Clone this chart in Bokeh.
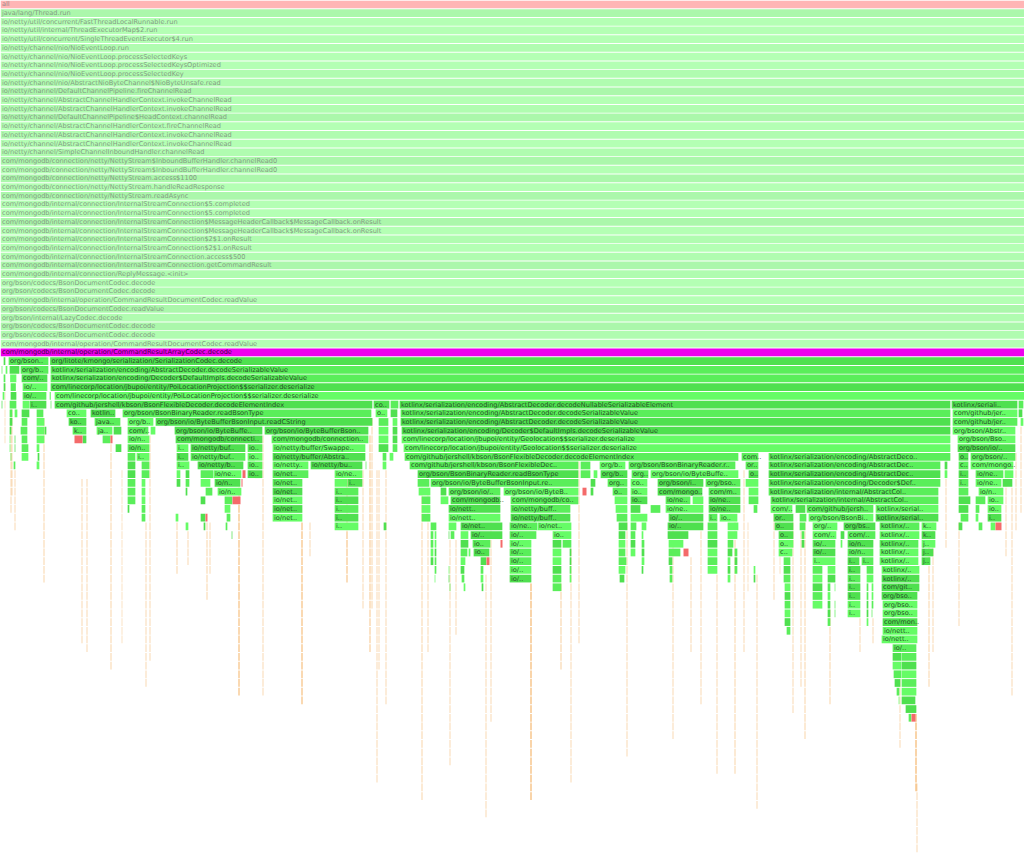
from bokeh.embed import file_html
from bokeh.models import ColumnDataSource
from bokeh.plotting import figure
from bokeh.resources import INLINE
from bokeh.core.properties import value

N_ROWS = 853 / 8.7
TOTAL = 1024

root_label = "all"
thread_stack = [
    "java/lang/Thread.run",
    "io/netty/util/concurrent/FastThreadLocalRunnable.run",
    "io/netty/util/internal/ThreadExecutorMap$2.run",
    "io/netty/util/concurrent/SingleThreadEventExecutor$4.run",
    "io/netty/channel/nio/NioEventLoop.run",
    "io/netty/channel/nio/NioEventLoop.processSelectedKeys",
    "io/netty/channel/nio/NioEventLoop.processSelectedKeysOptimized",
    "io/netty/channel/nio/NioEventLoop.processSelectedKey",
    "io/netty/channel/nio/AbstractNioByteChannel$NioByteUnsafe.read",
    "io/netty/channel/DefaultChannelPipeline.fireChannelRead",
    "io/netty/channel/AbstractChannelHandlerContext.invokeChannelRead",
    "io/netty/channel/AbstractChannelHandlerContext.invokeChannelRead",
    "io/netty/channel/DefaultChannelPipeline$HeadContext.channelRead",
    "io/netty/channel/AbstractChannelHandlerContext.fireChannelRead",
    "io/netty/channel/AbstractChannelHandlerContext.invokeChannelRead",
    "io/netty/channel/AbstractChannelHandlerContext.invokeChannelRead",
    "io/netty/channel/SimpleChannelInboundHandler.channelRead",
    "com/mongodb/connection/netty/NettyStream$InboundBufferHandler.channelRead0",
    "com/mongodb/connection/netty/NettyStream$InboundBufferHandler.channelRead0",
    "com/mongodb/connection/netty/NettyStream.access$1100",
    "com/mongodb/connection/netty/NettyStream.handleReadResponse",
    "com/mongodb/connection/netty/NettyStream.readAsync",
    "com/mongodb/internal/connection/InternalStreamConnection$5.completed",
    "com/mongodb/internal/connection/InternalStreamConnection$5.completed",
    "com/mongodb/internal/connection/InternalStreamConnection$MessageHeaderCallback$MessageCallback.onResult",
    "com/mongodb/internal/connection/InternalStreamConnection$MessageHeaderCallback$MessageCallback.onResult",
    "com/mongodb/internal/connection/InternalStreamConnection$2$1.onResult",
    "com/mongodb/internal/connection/InternalStreamConnection$2$1.onResult",
    "com/mongodb/internal/connection/InternalStreamConnection.access$500",
    "com/mongodb/internal/connection/InternalStreamConnection.getCommandResult",
    "com/mongodb/internal/connection/ReplyMessage.<init>",
    "org/bson/codecs/BsonDocumentCodec.decode",
    "org/bson/codecs/BsonDocumentCodec.decode",
    "com/mongodb/internal/operation/CommandResultDocumentCodec.readValue",
    "org/bson/codecs/BsonDocumentCodec.readValue",
    "org/bson/internal/LazyCodec.decode",
    "org/bson/codecs/BsonDocumentCodec.decode",
    "org/bson/codecs/BsonDocumentCodec.decode",
    "com/mongodb/internal/operation/CommandResultDocumentCodec.readValue",
]
selected_label = "com/mongodb/internal/operation/CommandResultArrayCodec.decode"

KD = "kotlinx/serialization/encoding/AbstractDecoder.decodeSerializableValue"
KI = "kotlinx/serialization/encoding/Decoder$DefaultImpls.decodeSerializableValue"
PL = "com/linecorp/location/jbupoi/entity/PoiLocationProjection$$serializer.deserialize"
GL = "com/linecorp/location/jbupoi/entity/Geolocation$$serializer.deserialize"

stack_41 = [(3,5,""),(8,48,"org/bson.."),(49.5,1024,"org/litote/kmongo/serialization/SerializationCodec.decode")]
stack_42 = [(1,2,""),(5,7,""),(9,19,""),(20,48,"org/b.."),(50,1024,KD)]
stack_43 = [(3,5,""),(9.5,16,""),(21,47,"com/.."),(50,1024,KI)]
stack_44 = [(3,5,""),(10,15.5,""),(22,47,"io/.."),(50,1024,PL)]
stack_45 = [(2,4,""),(10,16,""),(22,46,"io/.."),(49,50.5,""),(54,1024,PL)]
stack_46 = [(1,2,""),(9,16,""),(22,29,""),(29,46,"i.."),(50,51,""),(54,372,"com/github/jershell/kbson/BsonFlexibleDecoder.decodeElementIndex"),(373,389,"co.."),(390,398,""),(399,950,"kotlinx/serialization/encoding/AbstractDecoder.decodeNullableSerializableElement"),(951,1017,"kotlinx/seriali.."),(1018,1023,"")]
stack_47 = [(9,12,""),(14,17,""),(21,29,""),(36,43,""),(66,86,"co.."),(90,115,"kotlin.."),(122,371,"org/bson/BsonBinaryReader.readBsonType"),(375,387,"o.."),(390,397,""),(400,950,KD),(952,1017,"com/github/jer.."),(1018,1022,"")]
stack_48 = [(9,12,""),(21,27,""),(36,44,""),(68,86,"ko.."),(94,120,"java.."),(127,153,"org/b.."),(155,372,"org/bson/io/ByteBufferBsonInput.readCString"),(378,388,""),(392,397,""),(400,950,KD),(952,1017,"com/github/jer.."),(1020,1023,"")]
stack_49 = [(9,11,""),(20,27,""),(36,44,""),(44,46,""),(72,86,"k.."),(96,112,"ja.."),(113,121,""),(127,148,"com/.."),(150,155,""),(174,262,"org/bson/io/ByteBuffe.."),(264,368,"org/bson/io/ByteBufferBson.."),(378,388,""),(392,397,""),(401,950,KI),(952,1015,"org/bson/Abstr..")]
stack_50 = [(9,10,""),(14,15,""),(21,27,""),(36,44,""),(82,86,""),(102,110,""),(127,149,"io/n.."),(175,262,"com/mongodb/connecti.."),(271,368,"com/mongodb/connection.."),(378,388,""),(392,397,""),(401,950,GL),(957,1015,"org/bson/Bso..")]
stack_51 = [(9,10,""),(14,15,""),(21,28,""),(36,39,""),(115,121,""),(127,149,"io/n.."),(176,188,"i.."),(190,245,"io/netty/buf.."),(247,262,"io.."),(272,365,"io/netty/buffer/Swappe.."),(378,388,""),(392,397,""),(403,950,GL),(957,1015,"org/bson/io/..")]
stack_52 = [(10,11,""),(21,28,""),(37,39,""),(127,135,""),(136,149,"i.."),(176,188,"i.."),(190,245,"io/netty/buf.."),(247,262,"io.."),(272,365,"io/netty/buffer/Abstra.."),(382,386,""),(389,393,""),(404,738,"com/github/jershell/kbson/BsonFlexibleDecoder.decodeElementIndex"),(741,758,"com.."),(768,950,"kotlinx/serialization/encoding/AbstractDeco.."),(958,968,"o.."),(970,1015,"org/bson/..")]
stack_53 = [(13,15,""),(36,39,""),(127,135,""),(141,149,""),(176,189,"i.."),(197,243,"io/netty/b.."),(247,262,"io.."),(272,308,"io/netty.."),(310,362,"io/netty/bu.."),(365,366,""),(382,386,""),(409,578,"com/github/jershell/kbson/BsonFlexibleDec.."),(580,590,""),(599,625,"org/b.."),(628,735,"org/bson/BsonBinaryReader.r.."),(745,758,"or.."),(768,940,"kotlinx/serialization/encoding/AbstractDec.."),(944,947,""),(958,968,"c.."),(970,1013,"com/mongo..")]
stack_54 = [(127,135,""),(141,149,""),(176,180,""),(185,189,""),(200,213,""),(213,241,"io/ne.."),(247,262,"io.."),(272,308,"io/net.."),(334,362,"io/ne.."),(417,578,"org/bson/BsonBinaryReader.readBsonType"),(580,590,""),(593,597,""),(600,627,"org/b.."),(631,648,"org.."),(650,738,"org/bson/io/ByteBuffe.."),(748,758,"o.."),(768,940,"kotlinx/serialization/encoding/AbstractDec.."),(944,947,""),(958,968,"i.."),(975,1003,"io/ne.."),(1004,1013,"")]
stack_55 = [(127,135,""),(141,145,""),(176,180,""),(185,189,""),(200,210,""),(214,240,"io/n.."),(272,302,"io/net.."),(334,347,""),(347,362,"i.."),(417,429,""),(430,578,"org/bson/io/ByteBufferBsonInput.re.."),(590,595,""),(607,627,"org.."),(630,647,"co.."),(657,703,"org/bson/i.."),(705,740,"org/bso.."),(745,758,""),(768,940,"kotlinx/serialization/encoding/Decoder$Def.."),(958,968,"i.."),(975,1001,"io/ne.."),(1002,1012,"")]
stack_56 = [(127,135,""),(141,145,""),(185,187,""),(205,212,""),(217,241,"io/n.."),(272,302,"io/net.."),(334,358,"i.."),(418,430,""),(440,446,""),(448,500,"org/bson/io/.."),(503,578,"org/bson/io/ByteB.."),(590,593,""),(612,627,"o.."),(630,647,"io.."),(657,702,"com/mongo.."),(708,740,"com/m.."),(748,758,""),(768,938,"kotlinx/serialization/internal/AbstractCol.."),(958,968,""),(978,1003,"io/n..")]
stack_57 = [(127,135,""),(141,145,""),(200,205,""),(224,232,""),(272,302,"io/net.."),(334,358,"i.."),(421,430,""),(440,448,""),(450,500,"com/mongodb.."),(510,578,"com/mongodb/co.."),(614,627,""),(630,647,"io.."),(665,690,"io/ne.."),(692,703,""),(708,740,"io/ne.."),(748,758,""),(770,938,"kotlinx/serialization/internal/AbstractCol.."),(958,970,""),(975,985,""),(987,1003,"io..")]
stack_58 = [(127,129,""),(141,145,""),(224,230,""),(272,302,"io/net.."),(334,358,"i.."),(421,430,""),(448,500,"io/nett.."),(510,570,"io/netty/buff.."),(615,627,""),(630,640,""),(650,660,""),(665,703,"io/ne.."),(708,740,"io/ne.."),(753,757,""),(770,792,"com/.."),(795,805,""),(806,873,"com/github/jersh.."),(875,938,"kotlinx/serial.."),(958,968,""),(975,979,""),(987,1001,"io..")]
stack_59 = [(141,145,""),(175,178,""),(200,205,""),(226,230,""),(272,302,"io/net.."),(334,358,"i.."),(421,430,""),(448,500,"io/nett.."),(510,570,"io/netty/buff.."),(616,627,""),(630,647,""),(668,703,"io/.."),(708,717,"i.."),(719,737,"io.."),(773,793,"or.."),(799,806,""),(808,873,"org/bson/BsonBi.."),(875,938,"kotlinx/serial.."),(960,968,""),(975,978,""),(987,1001,"i..")]
stack_60 = [(185,188,""),(203,205,""),(225,227,""),(334,358,"i.."),(383,386,""),(430,436,""),(448,456,""),(460,502,"io/net.."),(509,537,"io/ne.."),(537,571,"io/net.."),(618,627,""),(630,636,""),(641,646,""),(667,703,"io/.."),(707,717,""),(727,738,""),(774,793,"o.."),(799,805,""),(812,837,"org/.."),(843,875,"org/bs.."),(879,919,"kotlinx/.."),(921,936,"k.."),(958,962,""),(978,982,""),(990,995,"")]
stack_61 = [(231,232,""),(430,433,""),(434,436,""),(448,449,""),(450,454,""),(460,468,""),(470,502,"io/.."),(509,536,"io/.."),(552,571,"io.."),(618,625,""),(630,635,""),(641,643,""),(667,688,""),(707,717,""),(727,737,""),(778,793,"o.."),(801,804,""),(812,836,"com/.."),(840,844,""),(847,875,"com/.."),(879,919,"kotlinx/.."),(921,935,"k..")]
stack_62 = [(430,433,""),(434,436,""),(460,468,""),(472,490,"io.."),(509,531,"io/.."),(552,561,""),(562,571,""),(618,625,""),(630,635,""),(641,644,""),(668,683,""),(707,717,""),(727,733,""),(778,793,"o.."),(801,804,""),(812,835,"io/.."),(840,842,""),(847,873,"io/n.."),(879,918,"kotlinx/.."),(921,935,"j..")]
stack_63 = [(430,433,""),(434,436,""),(460,467,""),(468,470,""),(473,489,"io.."),(509,531,"io/.."),(552,561,""),(569,571,""),(618,625,""),(630,635,""),(641,644,""),(668,680,""),(707,717,""),(727,732,""),(734,737,""),(778,792,"c.."),(812,835,"io/.."),(847,873,"io/n.."),(879,918,"kotlinx/.."),(921,933,"j..")]
stack_64 = [(430,433,""),(434,436,""),(460,465,""),(480,486,""),(509,531,"io/.."),(552,561,""),(569,571,""),(618,626,""),(641,644,""),(668,672,""),(707,717,""),(727,730,""),(734,737,""),(783,790,""),(812,835,"i.."),(847,859,"i.."),(861,873,"i.."),(879,918,"kotlinx/.."),(921,930,"j..")]
stack_65 = [(434,436,""),(448,449,""),(460,464,""),(480,483,""),(509,531,"io/.."),(552,561,""),(569,571,""),(618,625,""),(641,643,""),(669,672,""),(707,717,""),(727,730,""),(734,737,""),(753,755,""),(783,790,""),(812,822,""),(827,835,""),(847,860,"i.."),(866,873,""),(881,919,"kotlinx/..")]
stack_66 = [(434,435,""),(448,449,""),(461,464,""),(480,483,""),(509,531,"io/.."),(552,561,""),(569,571,""),(619,624,""),(669,672,""),(727,730,""),(753,755,""),(783,790,""),(812,822,""),(827,835,""),(847,860,"i.."),(866,873,""),(881,919,"kotlinx/..")]
stack_67 = [(449,450,""),(463,465,""),(481,483,""),(552,561,""),(784,790,""),(812,822,""),(827,830,""),(834,835,""),(847,860,"i.."),(866,868,""),(871,873,""),(881,919,"com/git..")]
stack_68 = [(784,790,""),(812,822,""),(827,830,""),(847,860,"i.."),(866,868,""),(871,873,""),(881,917,"org/bso..")]
stack_69 = [(784,790,""),(812,822,""),(827,830,""),(834,835,""),(847,860,"i.."),(866,868,""),(871,873,""),(882,917,"org/bso..")]
stack_70 = [(784,790,""),(827,830,""),(834,835,""),(847,860,"i.."),(866,868,""),(871,872,""),(882,917,"org/bso..")]
stack_71 = [(784,790,""),(827,830,""),(866,868,""),(882,917,"com/mon..")]
stack_72 = [(786,790,""),(882,917,"io/nett..")]
stack_73 = [(881,917,"io/nett..")]
stack_74 = [(892,916,"io/..")]
stack_75 = [(892,901,""),(901,916,"")]
stack_76 = [(892,901,""),(901,916,"")]
stack_77 = [(893,901,""),(901,916,"")]
stack_78 = [(894,900,""),(901,916,"")]
stack_79 = [(896,899,""),(901,916,"")]
stack_80 = [(898,899,""),(901,915,"")]
stack_81 = [(905,916,"")]
stack_82 = [(908,911,"")]

stacks = {
    41: stack_41, 42: stack_42, 43: stack_43, 44: stack_44, 45: stack_45, 46: stack_46,
    47: stack_47, 48: stack_48, 49: stack_49, 50: stack_50, 51: stack_51, 52: stack_52,
    53: stack_53, 54: stack_54, 55: stack_55, 56: stack_56, 57: stack_57, 58: stack_58,
    59: stack_59, 60: stack_60, 61: stack_61, 62: stack_62, 63: stack_63, 64: stack_64,
    65: stack_65, 66: stack_66, 67: stack_67, 68: stack_68, 69: stack_69, 70: stack_70,
    71: stack_71, 72: stack_72, 73: stack_73, 74: stack_74, 75: stack_75, 76: stack_76,
    77: stack_77, 78: stack_78, 79: stack_79, 80: stack_80, 81: stack_81, 82: stack_82,
}

hot_rows = [50, 50, 54, 55, 56, 57, 59, 60, 62, 63, 64, 82]
hot_starts = [74, 110, 242, 241, 582, 232, 205, 995, 500, 683, 486, 911]
hot_ends = [82, 112, 245, 242, 586, 240, 207, 1001, 502, 688, 489, 915]

spike_x = [4,10,11,14,43,81,86,110,121,145,149,176,187,206,209,238,262,301,309,346,362,369,371,376,378,385,421,427,449,455,485,490,530,560,570,578,626,672,690,700,716,734,743,747,756,773,779,792,800,804,829,859,872,899,928,932,945,958,1005,1011,1015,1020,915,916]
spike_first = [44,47,47,54,48,55,55,50,54,60,50,60,61,60,60,56,50,60,60,54,54,50,48,54,54,54,56,56,62,62,66,60,67,67,63,50,60,60,64,55,66,60,54,60,66,54,54,60,60,60,70,71,71,78,62,60,54,60,54,56,52,49,82,90]
spike_last = [50,58,56,60,66,73,74,76,73,78,75,65,64,68,65,79,79,80,63,66,69,74,69,89,76,80,91,74,87,72,93,82,91,76,89,73,86,84,74,80,88,88,74,67,92,68,65,81,78,84,80,74,73,85,78,74,62,71,63,79,60,58,90,97]
spike_strength = [.3,.4,.4,.4,.45,.4,.4,.45,.3,.4,.4,.45,.4,.45,.4,.8,.4,.8,.4,.7,.4,.6,.45,.4,.4,.4,.45,.4,.4,.4,.4,.4,.9,.5,.4,.4,.4,.4,.4,.4,.4,.45,.4,.3,.4,.4,.3,.4,.4,.45,.45,.4,.4,.4,.45,.4,.4,.4,.4,.4,.4,.4,.9,.4]

# ---------------------------------------------------------------- styling
GAP = 0.89
TOP_SHADES = ["#abf7ab", "#b0fcb0", "#b4ffb4"]
LOW_SHADES = ["#4fe04f", "#5aee5a", "#66fc66"]
TOP_ORDER = "0222122110210212102020220212101212010120"
LOW_ORDER = "011020100221101110120120121012012102101201"

x0, x1, ytop, ybot, fill = [], [], [], [], []
tx, ty, tl, tc = [], [], [], []


def add(r, a, b, color, label="", tcolor="#274f27"):
    x0.append(a + 0.15)
    x1.append(b - 0.15)
    ytop.append(r)
    ybot.append(r + GAP)
    fill.append(color)
    if label:
        tx.append(a + 1.5)
        ty.append(r + GAP / 2)
        tl.append(label)
        tc.append(tcolor)


sx0, sx1, st, sb, sa = [], [], [], [], []
for x, f, l, s in zip(spike_x, spike_first, spike_last, spike_strength):
    for r in range(f, l + 1):
        sx0.append(x)
        sx1.append(x + 1)
        st.append(r)
        sb.append(r + GAP)
        sa.append(s)

add(0, 0, TOTAL, "#ffb5b5", root_label, "#a08888")
for i, lab in enumerate(thread_stack):
    add(i + 1, 0, TOTAL, TOP_SHADES[int(TOP_ORDER[i])], lab, "#839c83")
add(40, 0, TOTAL, "#ee00ee", selected_label, "#400040")
for r, frames in stacks.items():
    base = int(LOW_ORDER[r - 41])
    for j, (a, b, lab) in enumerate(frames):
        width = b - a
        shade = base if width > 100 else (base + j) % 3
        add(r, a, b, LOW_SHADES[shade], lab)

hy1 = [r + GAP for r in hot_rows]

p = figure(
    width=1024, height=853,
    x_range=(0, TOTAL), y_range=(N_ROWS, 0),
    output_backend="svg", toolbar_location=None,
    min_border=0, min_border_left=0, min_border_right=0, min_border_top=0, min_border_bottom=0,
    outline_line_color=None, background_fill_color="#ffffff", border_fill_color="#ffffff",
)
p.xaxis.visible = False
p.yaxis.visible = False
p.xgrid.visible = False
p.ygrid.visible = False

p.quad(left=sx0, right=sx1, top=st, bottom=sb, fill_color="#f2a040", fill_alpha=sa, line_color=None)
p.quad(source=ColumnDataSource(dict(left=x0, right=x1, top=ytop, bottom=ybot, color=fill)),
       left="left", right="right", top="top", bottom="bottom", fill_color="color", line_color=None)
p.quad(left=hot_starts, right=hot_ends, top=hot_rows, bottom=hy1, fill_color="#f46a6a", line_color=None)
p.text(source=ColumnDataSource(dict(x=tx, y=ty, t=tl, c=tc)), x="x", y="y", text="t", text_color="c",
       text_font=value("DejaVu Sans"), text_font_size="6.6px", text_baseline="middle", text_align="left")

open("out.html", "w").write(file_html(p, INLINE))
